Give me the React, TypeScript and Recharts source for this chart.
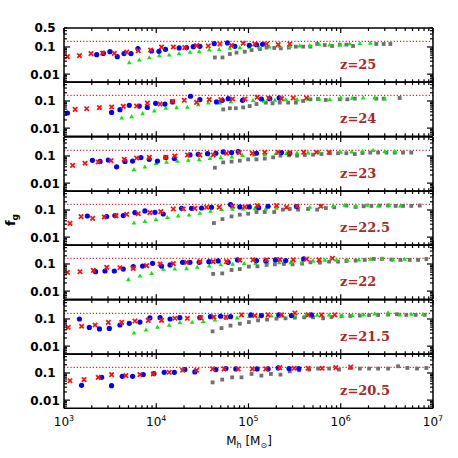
import { ScatterChart, Scatter, XAxis, YAxis, ReferenceLine } from 'recharts';

// halo mass [Msun], gas fraction f_g — read per panel, one list per marker set
const z25Red = [[1090,0.044],[1470,0.048],[1960,0.057],[2620,0.06],[3510,0.058],[4780,0.065],[6380,0.073],[8690,0.077],[11400,0.1],[15300,0.1],[20400,0.095],[27400,0.112],[36600,0.109],[49000,0.129],[65500,0.115],[87500,0.137],[117000,0.129],[157000,0.129],[210000,0.122],[280000,0.129]];
const z25Blue = [[2260,0.052],[2670,0.058],[3150,0.067],[3780,0.044],[4470,0.057],[5320,0.057],[6330,0.087],[8900,0.071],[10700,0.069],[12600,0.082],[17700,0.092],[21300,0.095],[25200,0.103],[29700,0.106],[42500,0.133],[59200,0.141],[71100,0.106],[102000,0.115],[122000,0.122],[142000,0.126]];
const z25Green = [[5100,0.027],[6550,0.034],[8400,0.041],[10800,0.049],[13800,0.052],[17700,0.058],[23200,0.065],[29200,0.069],[37500,0.08],[48100,0.082],[62800,0.092],[80500,0.097],[102000,0.1],[130000,0.1],[168000,0.103],[218000,0.106],[280000,0.106],[360000,0.112],[462000,0.115],[582000,0.129],[760000,0.122],[975000,0.122],[1250000,0.133],[1610000,0.137],[2090000,0.141]];
const z25Gray = [[43200,0.041],[52200,0.041],[62800,0.055],[74100,0.062],[91200,0.067],[108000,0.077],[133000,0.084],[157000,0.095],[190000,0.092],[224000,0.089],[274000,0.095],[326000,0.103],[391000,0.103],[469000,0.103],[555000,0.129],[671000,0.118],[805000,0.109],[975000,0.122],[1150000,0.122],[1360000,0.109],[2430000,0.129],[2920000,0.129],[3450000,0.129]];

const z24Red = [[1320,0.049],[1760,0.052],[2420,0.057],[3280,0.06],[4390,0.063],[6120,0.065],[8000,0.084],[11000,0.077],[15000,0.097],[20100,0.106],[27400,0.089],[37500,0.112],[50100,0.112],[67100,0.118],[91200,0.118],[124000,0.137],[166000,0.126],[228000,0.122],[305000,0.129],[425000,0.129]];
const z24Blue = [[1090,0.036],[3280,0.038],[4040,0.048],[5100,0.069],[6550,0.065],[8000,0.058],[9840,0.082],[12400,0.077],[15000,0.092],[23500,0.149],[29700,0.112],[45000,0.092],[51900,0.106],[60300,0.122],[86100,0.106],[138000,0.118],[170000,0.122],[215000,0.129]];
const z24Green = [[4220,0.024],[5410,0.027],[7110,0.035],[9510,0.044],[12700,0.055],[16600,0.058],[21700,0.06],[28500,0.075],[36600,0.087],[49000,0.087],[64400,0.097],[85300,0.106],[112000,0.106],[147000,0.1],[193000,0.109],[253000,0.115],[336000,0.115],[443000,0.118],[582000,0.122],[760000,0.115],[1000000,0.133],[1330000,0.129],[1750000,0.133],[2330000,0.133],[3000000,0.122]];
const z24Gray = [[53200,0.049],[62800,0.054],[72900,0.054],[87500,0.058],[103000,0.065],[122000,0.077],[154000,0.087],[182000,0.082],[218000,0.087],[269000,0.087],[326000,0.087],[391000,0.1],[469000,0.115],[568000,0.118],[688000,0.109],[975000,0.115],[1180000,0.115],[1420000,0.122],[2430000,0.122],[2920000,0.122],[4350000,0.129]];

const z23Red = [[1240,0.045],[1690,0.054],[2350,0.06],[3230,0.067],[4500,0.075],[6120,0.084],[8400,0.089],[12700,0.089],[15900,0.1],[21800,0.109],[29700,0.109],[41400,0.109],[57800,0.126],[79300,0.133],[110000,0.126],[150000,0.137],[210000,0.137],[280000,0.133],[397000,0.137],[545000,0.137],[748000,0.137]];
const z23Blue = [[2030,0.069],[2460,0.063],[3020,0.071],[3720,0.04],[4580,0.063],[5540,0.065],[6820,0.087],[8400,0.075],[10300,0.065],[12700,0.087],[15700,0.08],[23200,0.109],[28500,0.115],[36000,0.122],[44300,0.126],[53200,0.141],[65500,0.133],[77300,0.145],[122000,0.126],[228000,0.133],[280000,0.126]];
const z23Green = [[5730,0.032],[7530,0.04],[9900,0.054],[12900,0.06],[16900,0.065],[22200,0.071],[29200,0.075],[38100,0.082],[50100,0.089],[65900,0.095],[86100,0.106],[114000,0.112],[150000,0.115],[198000,0.126],[258000,0.126],[336000,0.133],[443000,0.133],[582000,0.141],[760000,0.141],[1000000,0.141],[1310000,0.145],[1720000,0.153],[2240000,0.162],[3000000,0.149],[3850000,0.149]];
const z23Gray = [[43200,0.037],[53200,0.058],[65500,0.062],[80500,0.067],[99100,0.075],[122000,0.075],[150000,0.08],[185000,0.089],[222000,0.103],[275000,0.106],[336000,0.103],[408000,0.109],[501000,0.112],[618000,0.118],[760000,0.126],[935000,0.126],[1150000,0.126],[1420000,0.118],[1720000,0.129],[2090000,0.133],[2540000,0.133],[3130000,0.133],[3850000,0.133],[4730000,0.133],[5820000,0.133]];

const z225Red = [[1160,0.032],[1530,0.057],[2040,0.049],[2730,0.055],[3660,0.062],[4780,0.069],[6380,0.073],[8530,0.08],[11200,0.087],[15300,0.109],[19600,0.109],[26200,0.115],[35100,0.126],[48100,0.126],[67100,0.137],[91200,0.129],[124000,0.145],[201000,0.145],[258000,0.126],[336000,0.137],[607000,0.137]];
const z225Blue = [[1790,0.06],[2900,0.057],[3560,0.062],[4390,0.062],[5870,0.08],[7530,0.092],[9680,0.082],[11900,0.071],[18800,0.115],[24100,0.115],[31000,0.118],[39700,0.126],[63800,0.158],[80500,0.129],[102000,0.129],[129000,0.122],[163000,0.137],[331000,0.133]];
const z225Green = [[5730,0.034],[7530,0.039],[9900,0.045],[13200,0.054],[17300,0.062],[22700,0.067],[29700,0.077],[38700,0.092],[51000,0.106],[67100,0.109],[87500,0.112],[117000,0.115],[154000,0.115],[201000,0.118],[264000,0.126],[345000,0.129],[461000,0.129],[618000,0.141],[826000,0.145],[1100000,0.153],[1450000,0.145],[1930000,0.153],[2540000,0.145],[3340000,0.153],[4430000,0.145]];
const z225Gray = [[42200,0.033],[52200,0.046],[65500,0.058],[80500,0.067],[99100,0.073],[122000,0.084],[150000,0.084],[190000,0.084],[236000,0.103],[280000,0.109],[345000,0.103],[443000,0.109],[555000,0.103],[690000,0.118],[850000,0.125],[1150000,0.145],[1450000,0.129],[1770000,0.137],[2150000,0.141],[2640000,0.145],[3260000,0.145],[3940000,0.141],[4730000,0.141],[5820000,0.141],[7180000,0.145]];

const z22Red = [[1090,0.049],[1490,0.052],[2080,0.058],[2900,0.075],[4040,0.073],[5630,0.069],[7850,0.087],[11000,0.1],[15300,0.103],[21300,0.115],[29700,0.122],[41400,0.122],[57800,0.122],[80500,0.137],[112000,0.141],[157000,0.141],[218000,0.145],[305000,0.141],[425000,0.153],[582000,0.141],[813000,0.162]];
const z22Blue = [[2200,0.052],[2780,0.055],[3510,0.055],[4390,0.065],[5630,0.08],[7110,0.084],[9120,0.106],[11400,0.084],[14100,0.092],[19300,0.115],[23200,0.115],[29200,0.115],[37200,0.122],[46900,0.129],[60300,0.115],[76000,0.141],[122000,0.133],[154000,0.129],[196000,0.141],[253000,0.133],[397000,0.153]];
const z22Green = [[4980,0.027],[6650,0.037],[8900,0.046],[11900,0.065],[15900,0.067],[21300,0.069],[27800,0.077],[37500,0.087],[50100,0.097],[67100,0.1],[89700,0.106],[119000,0.106],[159000,0.112],[215000,0.115],[287000,0.115],[381000,0.122],[501000,0.133],[671000,0.141],[897000,0.141],[1180000,0.141],[1570000,0.145],[2090000,0.153],[2800000,0.162],[3690000,0.145],[4930000,0.153]];
const z22Gray = [[41400,0.043],[51900,0.045],[65500,0.06],[80500,0.065],[101000,0.08],[125000,0.082],[157000,0.092],[193000,0.097],[242000,0.1],[300000,0.097],[381000,0.103],[469000,0.115],[593000,0.112],[748000,0.122],[935000,0.122],[1150000,0.129],[1450000,0.133],[1820000,0.141],[2280000,0.153],[2800000,0.153],[3540000,0.145],[4430000,0.141],[5590000,0.141],[6890000,0.141],[8470000,0.153]];

const z215Red = [[1110,0.049],[1550,0.054],[2170,0.06],[3020,0.075],[4220,0.075],[5870,0.084],[8190,0.089],[11400,0.089],[15900,0.106],[21700,0.106],[30200,0.112],[42200,0.118],[56900,0.118],[83900,0.141],[117000,0.133],[163000,0.141],[228000,0.141],[318000,0.167],[443000,0.141],[618000,0.141],[861000,0.141]];
const z215Blue = [[1470,0.1],[1880,0.049],[2420,0.043],[3100,0.045],[4040,0.06],[5100,0.069],[6650,0.077],[8530,0.109],[11000,0.112],[14100,0.1],[18000,0.112],[29700,0.112],[38700,0.122],[49800,0.126],[63800,0.122],[106000,0.141],[138000,0.133],[213000,0.141],[292000,0.133],[481000,0.141]];
const z215Green = [[5730,0.031],[7730,0.04],[10300,0.051],[13800,0.06],[18000,0.075],[24500,0.077],[32300,0.082],[43200,0.095],[56900,0.106],[75300,0.112],[102000,0.126],[133000,0.126],[177000,0.133],[233000,0.133],[313000,0.133],[418000,0.141],[555000,0.141],[748000,0.145],[1020000,0.133],[1330000,0.137],[1770000,0.145],[2330000,0.158],[3260000,0.172],[4360000,0.145],[5820000,0.153],[7800000,0.149]];
const z215Gray = [[40800,0.035],[51000,0.046],[63800,0.057],[80500,0.067],[101000,0.077],[127000,0.089],[159000,0.095],[201000,0.103],[252000,0.106],[318000,0.112],[401000,0.115],[501000,0.115],[644000,0.106],[793000,0.118],[1020000,0.126],[1270000,0.129],[1610000,0.133],[2030000,0.137],[2540000,0.141],[3260000,0.145],[4070000,0.149],[5140000,0.141],[6490000,0.141],[8120000,0.141]];

const z205Red = [[1160,0.052],[1650,0.057],[2350,0.069],[3280,0.087],[4690,0.08],[6650,0.087],[9290,0.092],[13800,0.106],[19300,0.126],[27400,0.126],[40800,0.141],[54400,0.141],[77300,0.141],[110000,0.141],[154000,0.141],[218000,0.158],[313000,0.149],[443000,0.149],[628000,0.149],[883000,0.158],[1280000,0.167]];
const z205Blue = [[1550,0.035],[2560,0.069],[3280,0.034],[4280,0.075],[5540,0.075],[7230,0.087],[9440,0.095],[12200,0.106],[15700,0.106],[20400,0.133],[26200,0.109],[44300,0.133],[56900,0.145],[72900,0.141],[124000,0.141],[163000,0.141],[210000,0.153],[275000,0.145],[351000,0.145]];
const z205Green: number[][] = [];
const z205Gray = [[40800,0.045],[51900,0.057],[66500,0.069],[83900,0.069],[108000,0.092],[138000,0.08],[175000,0.092],[222000,0.087],[280000,0.115],[354000,0.126],[454000,0.133],[568000,0.145],[748000,0.145],[959000,0.133],[1270000,0.153],[1610000,0.145],[2030000,0.145],[2540000,0.145],[3260000,0.145],[4180000,0.177],[5270000,0.153],[6710000,0.145],[8470000,0.153]];

const panels = [
  { label: 'z=25', red: z25Red, blue: z25Blue, green: z25Green, gray: z25Gray },
  { label: 'z=24', red: z24Red, blue: z24Blue, green: z24Green, gray: z24Gray },
  { label: 'z=23', red: z23Red, blue: z23Blue, green: z23Green, gray: z23Gray },
  { label: 'z=22.5', red: z225Red, blue: z225Blue, green: z225Green, gray: z225Gray },
  { label: 'z=22', red: z22Red, blue: z22Blue, green: z22Green, gray: z22Gray },
  { label: 'z=21.5', red: z215Red, blue: z215Blue, green: z215Green, gray: z215Gray },
  { label: 'z=20.5', red: z205Red, blue: z205Blue, green: z205Green, gray: z205Gray },
];

const BARYON_FRACTION = 0.16;
const X_MAJOR = [1e3, 1e4, 1e5, 1e6, 1e7];
const X_EXP = ['3', '4', '5', '6', '7'];
const Y_MAJOR = [0.01, 0.1];
const Y_TICKS = [0.005, 0.006, 0.007, 0.008, 0.009, 0.01, 0.02, 0.03, 0.04, 0.05, 0.06, 0.07, 0.08, 0.09, 0.1, 0.2, 0.3, 0.4, 0.5];
const Y_LABELS_TOP = ['0.5', '0.1', '0.01'];
const Y_LABELS = ['0.1', '0.01'];

const X_TICKS: number[] = [];
for (const d of [1e3, 1e4, 1e5, 1e6]) for (let k = 1; k < 10; k++) X_TICKS.push(k * d);
X_TICKS.push(1e7);

const TOP = 28;
const PH = 54.3;
const W = 458;
const PAD = 8;
const LABEL_FONT = '"DejaVu Sans", sans-serif';

const toPts = (arr: number[][]) => arr.map(([m, f]) => ({ m, f }));

const Cross = (p: any) => (
  <path
    d={`M${p.cx - 2.2},${p.cy - 2.2}L${p.cx + 2.2},${p.cy + 2.2}M${p.cx - 2.2},${p.cy + 2.2}L${p.cx + 2.2},${p.cy - 2.2}`}
    stroke="#ff1010"
    strokeWidth={1.7}
  />
);
const Dot = (p: any) => <circle cx={p.cx} cy={p.cy} r={2.6} fill="#0000ff" />;
const Tri = (p: any) => (
  <polygon
    points={`${p.cx},${p.cy - 2.3} ${p.cx + 2.3},${p.cy + 1.8} ${p.cx - 2.3},${p.cy + 1.8}`}
    fill="#00ee00"
  />
);
const Sq = (p: any) => <rect x={p.cx - 1.9} y={p.cy - 1.9} width={3.8} height={3.8} fill="#707070" />;
const Nothing = () => <g />;

function xTick(side: 'top' | 'bottom', withLabels: boolean) {
  return (props: any) => {
    const { x, y, payload } = props;
    const i = X_MAJOR.indexOf(payload.value);
    const len = i >= 0 ? 5 : 3;
    const dir = side === 'bottom' ? -1 : 1;
    return (
      <g>
        <line x1={x} x2={x} y1={y} y2={y + dir * len} stroke="#000" strokeWidth={1.2} />
        {withLabels && i >= 0 && (
          <text x={x} y={y + 18} textAnchor="middle" fontFamily={LABEL_FONT} fontSize={12} fill="#000">
            10<tspan dy={-5} fontSize={8}>{X_EXP[i]}</tspan>
          </text>
        )}
      </g>
    );
  };
}

function yTick(side: 'left' | 'right', labels: string[]) {
  return (props: any) => {
    const { x, y, payload } = props;
    const v = payload.value;
    const major = Y_MAJOR.some((t) => Math.abs(t - v) < 1e-9);
    const len = major ? 6 : 3;
    const dir = side === 'left' ? 1 : -1;
    const lab = labels.find((l) => Math.abs(Number(l) - v) < 1e-9);
    return (
      <g>
        <line x1={x} x2={x + dir * len} y1={y} y2={y} stroke="#000" strokeWidth={1.2} />
        {side === 'left' && lab && (
          <text x={x - 19} y={y + 4.5} textAnchor="middle" fontFamily={LABEL_FONT} fontWeight="bold" fontSize={12} fill="#000">
            {lab}
          </text>
        )}
      </g>
    );
  };
}

function Panel({ idx }: { idx: number }) {
  const p = panels[idx];
  const last = idx === panels.length - 1;
  const bottomH = last ? 40 : 1;
  const axisLine = { stroke: '#000', strokeWidth: 1.5 };
  return (
    <div style={{ position: 'absolute', left: 0, top: TOP + idx * PH - PAD }}>
      <ScatterChart
        width={W}
        height={PH + 2 * PAD + (last ? 40 : 0)}
        margin={{ top: PAD - 1, right: 0, bottom: last ? PAD : PAD - 1, left: 0 }}
      >
        <XAxis xAxisId="b" dataKey="m" type="number" scale="log" domain={[1e3, 1e7]} allowDataOverflow
          ticks={X_TICKS} interval={0} minTickGap={0} height={bottomH} tickSize={0} tickMargin={0}
          axisLine={axisLine} tickLine={false} tick={xTick('bottom', last)} />
        <XAxis xAxisId="t" orientation="top" dataKey="m" type="number" scale="log" domain={[1e3, 1e7]} allowDataOverflow
          ticks={X_TICKS} interval={0} minTickGap={0} height={1} tickSize={0} tickMargin={0}
          axisLine={axisLine} tickLine={false} tick={xTick('top', false)} />
        <YAxis yAxisId="l" dataKey="f" type="number" scale="log" domain={[0.005, 0.5]} allowDataOverflow
          ticks={Y_TICKS} interval={0} minTickGap={0} width={64} tickSize={0} tickMargin={0}
          axisLine={axisLine} tickLine={false} tick={yTick('left', idx === 0 ? Y_LABELS_TOP : Y_LABELS)} />
        <YAxis yAxisId="r" orientation="right" dataKey="f" type="number" scale="log" domain={[0.005, 0.5]} allowDataOverflow
          ticks={Y_TICKS} interval={0} minTickGap={0} width={25} tickSize={0} tickMargin={0}
          axisLine={axisLine} tickLine={false} tick={yTick('right', [])} />
        <ReferenceLine xAxisId="b" yAxisId="l" y={BARYON_FRACTION} stroke="#c83030" strokeWidth={1.3} strokeDasharray="1.2 2" />
        <Scatter xAxisId="t" yAxisId="r" data={toPts(p.red)} shape={Nothing} isAnimationActive={false} />
        <Scatter xAxisId="b" yAxisId="l" data={toPts(p.gray)} shape={Sq} isAnimationActive={false} />
        <Scatter xAxisId="b" yAxisId="l" data={toPts(p.green)} shape={Tri} isAnimationActive={false} />
        <Scatter xAxisId="b" yAxisId="l" data={toPts(p.blue)} shape={Dot} isAnimationActive={false} />
        <Scatter xAxisId="b" yAxisId="l" data={toPts(p.red)} shape={Cross} isAnimationActive={false} />
      </ScatterChart>
    </div>
  );
}

export default function App() {
  return (
    <div style={{ position: 'absolute', left: 0, top: 0, width: W, height: W, background: '#fff' }}>
      {panels.map((_, i) => (
        <Panel key={i} idx={i} />
      ))}
      <svg width={W} height={W} style={{ position: 'absolute', left: 0, top: 0, pointerEvents: 'none' }}>
        {panels.map((p, i) => (
          <text key={p.label} x={340} y={TOP + i * PH + 41} fontFamily='"DejaVu Serif", serif' fontWeight="bold" fontSize={13} fill="#a52a2a">
            {p.label}
          </text>
        ))}
        <text x={249} y={445} textAnchor="middle" fontFamily={LABEL_FONT} fontSize={12} fill="#000">
          M<tspan dy={3} fontSize={8}>h</tspan>
          <tspan dy={-3}> [M</tspan>
          <tspan dy={3} fontSize={8}>⊙</tspan>
          <tspan dy={-3}>]</tspan>
        </text>
        <text x={15} y={220} transform="rotate(-90 15 220)" textAnchor="middle" fontFamily={LABEL_FONT} fontWeight="bold" fontSize={13} fill="#000">
          f<tspan dy={3} fontSize={9}>g</tspan>
        </text>
      </svg>
    </div>
  );
}
